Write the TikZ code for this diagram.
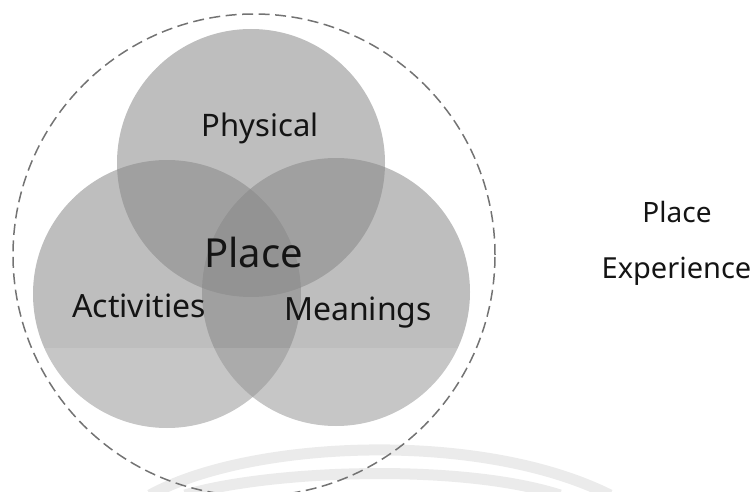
\documentclass[tikz,border=0pt]{standalone}
\usepackage{fontspec}
\setmainfont{Noto Sans}
\usepackage{tikz}
\begin{document}
\begin{tikzpicture}[x=1pt,y=-1pt]
\tikzset{venn/.style = {shape=circle,fill=black!47,fill opacity=0.54,minimum size=268pt,inner sep=0pt}}
\tikzset{lbl/.style = {anchor=base,text=black!92,inner sep=0pt}}
\tikzset{outer/.style = {draw=black!55,line width=1.5pt,dash pattern=on 11pt off 5.5pt}}
\tikzset{wmark/.style = {draw=black!8,line width=11pt}}
\useasboundingbox (0,0) rectangle (755,492);
\clip (0,0) rectangle (755,492);
% circles
\node[venn] (phys) at (251,163) {};
\node[venn] (act)  at (167,294) {};
\node[venn] (mean) at (336,292) {};
\fill[white,opacity=0.12] (0,348) rectangle (755,492);
% background marks
\coordinate (ma) at (150,495);
\coordinate (mb) at (610,495);
\coordinate (mc) at (185,495);
\coordinate (md) at (560,495);
\draw[wmark] (ma) .. controls (250,440) and (480,430) .. (mb);
\draw[wmark] (mc) .. controls (270,470) and (460,463) .. (md);
% outer ring
\node[circle,outer,minimum size=482pt,inner sep=0pt] (ring) at (254,255) {};
% labels
\node[lbl,font=\fontsize{31}{31}\selectfont] (tphys) at (260,137) {Physical};
\node[lbl,font=\fontsize{40}{40}\selectfont] (tplace) at (253.5,267) {Place};
\node[lbl,font=\fontsize{32}{32}\selectfont] (tact) at (139,317) {Activities};
\node[lbl,font=\fontsize{32}{32}\selectfont] (tmean) at (358,320) {Meanings};
\node[lbl,font=\fontsize{28}{28}\selectfont] (rplace) at (677,222) {Place};
\node[lbl,font=\fontsize{29}{29}\selectfont] (rexp) at (676.5,278) {Experience};
\end{tikzpicture}
\end{document}
